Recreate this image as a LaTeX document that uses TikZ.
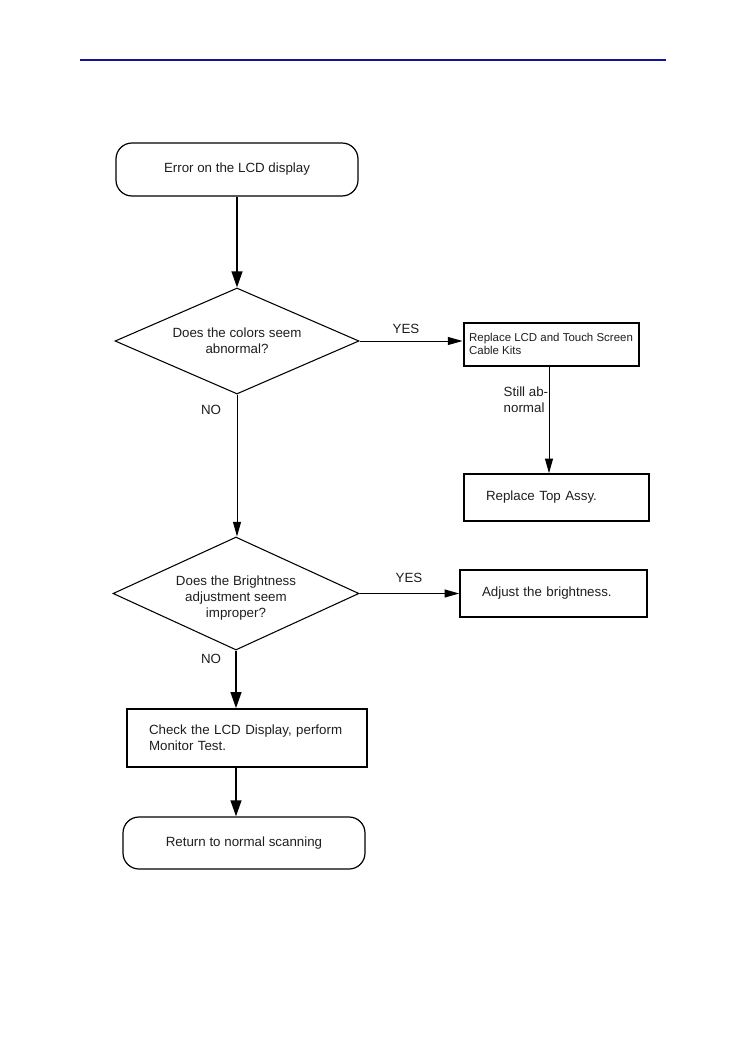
\documentclass[tikz,border=0pt]{standalone}
\usepackage{fontspec}
\setmainfont{Liberation Sans}
\usepackage{xcolor}
\usepackage{tikz}
\usetikzlibrary{arrows.meta, positioning, shapes.geometric}
\definecolor{headBlue}{RGB}{20,20,150}
\definecolor{inkGray}{RGB}{30,30,30}

\tikzset{
  terminal/.style={draw, rectangle, rounded corners=12pt, line width=0.9pt,
    font=\fontsize{10}{12}\selectfont, text=inkGray},
  decision/.style={draw, diamond, aspect=2.3, inner sep=0pt, line width=0.8pt,
    align=center, font=\fontsize{10}{12}\selectfont, text=inkGray},
  procbox/.style={draw, rectangle, line width=1.2pt, align=left,
    inner xsep=16.5pt, font=\fontsize{10}{12}\selectfont, text=inkGray},
  flowlabel/.style={font=\fontsize{10}{12}\selectfont, text=inkGray, align=left},
  thickarrow/.style={line width=1.5pt, -{Triangle[length=12pt,width=8pt]}},
  thinarrow/.style={line width=0.75pt, -{Triangle[length=11pt,width=6pt]}}
}

\begin{document}
\begin{tikzpicture}[x=0.75pt, y=-0.75pt]
\useasboundingbox (0,0) rectangle (749,1064);
% page header rule
\draw[headBlue, line width=1.2pt] (80,60) -- (666,60);

% left column
\node[terminal, minimum width=181.5pt, minimum height=39.75pt] (start)
  at (237,169.5) {Error on the LCD display};
\node[decision, minimum width=183pt, minimum height=79.5pt] (colors)
  at (237,341) {Does the colors seem\\abnormal?};
\node[decision, minimum width=184.5pt, minimum height=84.75pt] (bright)
  at (236,593.5) {\smash{\raisebox{-6pt}{\begin{tabular}{@{}c@{}}Does the Brightness\\
    adjustment seem\\improper?\end{tabular}}}};
\node[procbox, text width=147pt, minimum height=43.5pt] (check)
  at (247,738) {Check the LCD Display, perform\\Monitor Test.};
\node[terminal, minimum width=181.5pt, minimum height=39pt] (normal)
  at (244,843) {Return to normal scanning};

% right column
\node[procbox, inner xsep=2pt, line width=1.5pt, minimum width=131.25pt,
  minimum height=32.25pt, font=\fontsize{8.6}{10}\selectfont] (lcdkit)
  at (551,344) {Replace LCD and Touch Screen\\Cable Kits};
\node[procbox, text width=105.75pt, minimum height=35.25pt] (topassy)
  at (556.5,497.5) {Replace Top Assy.};
\node[procbox, text width=107.25pt, minimum height=35.25pt] (adjust)
  at (553.5,593.5) {Adjust the brightness.};

% connectors
\draw[thickarrow] (start.south) -- (colors.north);
\draw[thinarrow] (colors.east) -- (colors.east -| lcdkit.west);
\draw[thinarrow] (lcdkit.south -| 549,0) -- (topassy.north -| 549,0);
\draw[thinarrow] (colors.south) -- (colors.south |- bright.north);
\draw[thinarrow] (bright.east) -- (bright.east -| adjust.west);
\draw[thickarrow] (bright.south) -- (bright.south |- check.north);
\draw[thickarrow] (check.south -| bright.south) -- (normal.north -| bright.south);

% branch labels
\node[flowlabel] (yes1) at (406,329) {YES};
\node[flowlabel] (no1) at (211,410) {NO};
\node[flowlabel, anchor=west] (still) at (499,400) {Still ab-\\normal};
\node[flowlabel] (yes2) at (409,578) {YES};
\node[flowlabel] (no2) at (211,659) {NO};
\end{tikzpicture}
\end{document}
